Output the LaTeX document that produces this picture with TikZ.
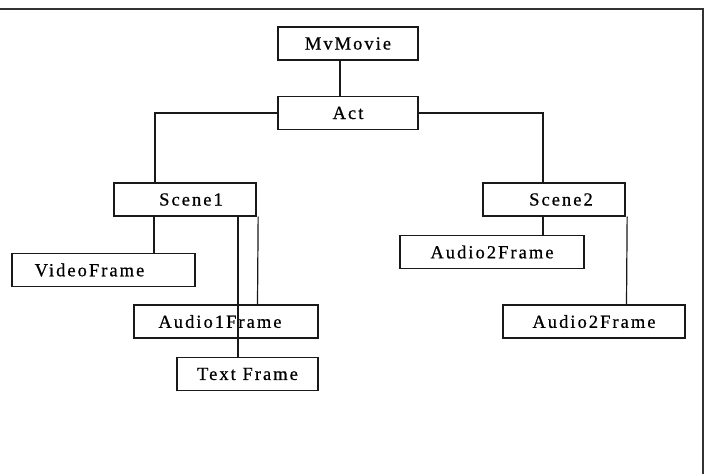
\documentclass[tikz,border=0pt]{standalone}
\usepackage{fontspec}
\setmainfont{Liberation Serif}[LetterSpace=11,FakeBold=0.6]
\begin{document}
\begin{tikzpicture}[x=1pt,y=-1pt,
  box/.style={draw=black!90,line width=1.3pt,rectangle,inner sep=0pt,
    minimum height=33pt,font=\fontsize{18.5}{20}\selectfont},
  conn/.style={draw=black!90,line width=1.2pt},
  frame/.style={draw=black!80,line width=1.5pt}]
\useasboundingbox (0,0) rectangle (707,474);
\node[box,minimum width=140pt] (mv) at (348,43.5) {MvMovie};
\node[box,minimum width=140pt] (act) at (348,113) {Act};
\node[box,minimum width=142pt] (s1) at (185,199.5) {\hspace*{12pt}Scene1};
\node[box,minimum width=142pt] (s2) at (554,199.5) {\hspace*{14pt}Scene2};
\node[box,minimum width=183pt] (vf) at (103.5,270) {VideoFrame\hspace*{28pt}};
\node[box,minimum width=184pt] (a1) at (226,321.5) {Audio1Frame\hspace*{12pt}};
\node[box,minimum width=141pt] (tf) at (247.5,374) {Text Frame};
\node[box,minimum width=184pt] (a2a) at (492,252) {Audio2Frame};
\node[box,minimum width=182pt] (a2b) at (594,321.5) {Audio2Frame};
\coordinate (ftl) at (0,9);
\coordinate (ftr) at (703,9);
\coordinate (fbr) at (703,474);
\draw[frame] (ftl) -- (ftr) -- (fbr);
\draw[conn] ([xshift=-8pt]mv.south) -- ([xshift=-8pt]act.north);
\draw[conn] (act.west) -| ([xshift=-30pt]s1.north);
\draw[conn] (act.east) -| ([xshift=-11pt]s2.north);
\draw[conn] ([xshift=-31pt]s1.south) -- ([xshift=50.5pt]vf.north);
\draw[conn] ([xshift=1.5pt]s1.south east) -- ([xshift=31.5pt]a1.north);
\draw[conn] ([xshift=53pt]s1.south) -- ([xshift=-9.5pt]tf.north);
\draw[conn] ([xshift=-11pt]s2.south) -- ([xshift=51pt]a2a.north);
\draw[conn] ([xshift=1.5pt]s2.south east) -- ([xshift=32.5pt]a2b.north);
\end{tikzpicture}
\end{document}
